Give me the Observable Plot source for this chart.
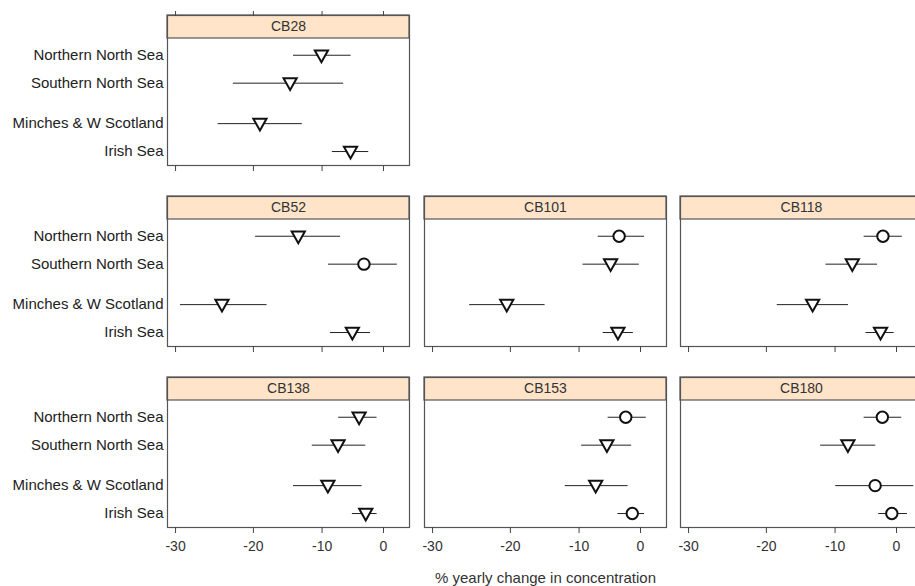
<!DOCTYPE html>
<html><head><meta charset="utf-8">
<script src="https://cdn.jsdelivr.net/npm/d3@7"></script>
<script src="https://cdn.jsdelivr.net/npm/@observablehq/plot@0.6"></script>
<style>
html,body{margin:0;padding:0;background:#fff;}
#chart{position:relative;width:915px;height:586px;overflow:hidden;background:#fff;}
</style></head><body><div id="chart"></div>
<script>
// ---- data ----
const congeners = ["CB28", "CB52", "CB101", "CB118", "CB138", "CB153", "CB180"];
const regions = ["Northern North Sea", "Southern North Sea", "Minches & W Scotland", "Irish Sea"];
// % yearly change (estimate, lower, upper) – rows follow congeners, columns follow regions
const estimate = [
  [-10.1, -14.8, -19.1, -5.5],
  [-13.6, -3.3, -24.2, -5.2],
  [-3.6, -5.0, -20.5, -3.8],
  [-2.3, -7.3, -13.4, -2.7],
  [-4.1, -7.5, -9.1, -3.0],
  [-2.5, -5.6, -7.4, -1.4],
  [-2.4, -8.0, -3.6, -0.8]
];
const lower = [
  [-14.3, -22.7, -24.7, -8.4],
  [-19.7, -9.0, -29.4, -8.7],
  [-7.0, -9.4, -25.4, -6.2],
  [-5.4, -11.4, -18.5, -5.1],
  [-7.4, -11.5, -14.3, -5.2],
  [-5.4, -9.6, -12.1, -3.8],
  [-5.4, -12.2, -9.9, -3.0]
];
const upper = [
  [-5.4, -6.6, -13.0, -2.5],
  [-7.1, 2.4, -18.1, -2.2],
  [0.7, -0.2, -15.1, -1.2],
  [1.0, -3.2, -7.9, -0.4],
  [-1.1, -3.0, -3.6, -1.1],
  [1.0, -1.5, -2.1, 0.7],
  [0.9, -3.5, 3.0, 1.9]
];
const xTickValues = [-30, -20, -10, 0];
const xTickLabels = ["-30", "-20", "-10", "0"];
const xLabel = "% yearly change in concentration";
const panelGrid = [["CB28", null, null], ["CB52", "CB101", "CB118"], ["CB138", "CB153", "CB180"]];

// ---- layout ----
const colLeft = [167, 424, 680], rowTop = [15, 196, 377];
const FW = 242, STRIP = 23, PANEL = 127;
const yPanel = [-0.6, 3.95];
const pxPerUnit = PANEL / (yPanel[1] - yPanel[0]);
const yDomain = [yPanel[0] - STRIP / pxPerUnit, yPanel[1]];
const regionPos = regions.map((_, i) => i + (i >= 2 ? 0.45 : 0));
const toRatio = v => 1 + v / 100;
const xDomain = [toRatio(-30.96), toRatio(4.56)];
const xTicks = xTickValues.map(toRatio);
const fmtX = d => xTickLabels[xTicks.findIndex(t => Math.abs(t - d) < 1e-9)];
const FONT = "'Liberation Sans', Arial, Helvetica, sans-serif";

const downTriangle = {
  draw(ctx, size) {
    const s = Math.sqrt(size / Math.PI);
    ctx.moveTo(-1.1 * s, -0.8 * s);
    ctx.lineTo(1.1 * s, -0.8 * s);
    ctx.lineTo(0, 1.15 * s);
    ctx.closePath();
  }
};

const chart = document.getElementById("chart");

function panel(name, row, col) {
  const k = congeners.indexOf(name);
  const rows = regions.map((r, i) => ({
    region: r, pos: regionPos[i], est: estimate[k][i], lo: lower[k][i], hi: upper[k][i]
  }));
  const sig = rows.filter(d => d.hi < 0);
  const ns = rows.filter(d => d.hi >= 0);
  const ML = col === 0 ? 167 : 2, MR = 2, MT = row === 0 ? 10 : 2, MB = row === 2 ? 59 : 10;
  const marks = [
    Plot.rect([0], {x1: () => xDomain[0], x2: () => xDomain[1], y1: () => yDomain[0], y2: () => yPanel[0],
      fill: "#ffe4c9", stroke: "#555", strokeWidth: 1.2}),
    Plot.text([name], {x: () => Math.sqrt(xDomain[0] * xDomain[1]), y: () => (yDomain[0] + yPanel[0]) / 2,
      fontSize: 14, fill: "#333"}),
    Plot.ruleY(rows, {y: "pos", x1: d => toRatio(d.lo), x2: d => toRatio(d.hi), stroke: "#222", strokeWidth: 1}),
    Plot.dot(ns, {x: d => toRatio(d.est), y: "pos", r: 5.7, stroke: "#111", strokeWidth: 2, fill: "white"}),
    Plot.dot(sig, {x: d => toRatio(d.est), y: "pos", r: 6, symbol: downTriangle, stroke: "#111", strokeWidth: 2, fill: "white"}),
    Plot.frame({stroke: "#555", strokeWidth: 1.2}),
    Plot.axisX({anchor: "bottom", ticks: xTicks, tickSize: 6, tickPadding: 8, stroke: "#444",
      tickFormat: row === 2 ? fmtX : () => "", fontSize: 14, fill: "#333"})
  ];
  if (row === 0) {
    marks.push(Plot.axisX({anchor: "top", ticks: xTicks, tickSize: 5, stroke: "#444", tickFormat: () => ""}));
  }
  if (col === 0) {
    marks.push(Plot.axisY({anchor: "left", ticks: regionPos, tickSize: 0, tickPadding: 4,
      tickFormat: d => regions[regionPos.indexOf(d)], fontSize: 15, fill: "#222"}));
  }
  if (row === 2 && col === 1) {
    marks.push(Plot.text([xLabel], {frameAnchor: "bottom", dy: 55, fontSize: 15, fill: "#333"}));
  }
  const svg = Plot.plot({
    width: ML + FW + MR,
    height: MT + STRIP + PANEL + MB,
    marginLeft: ML, marginRight: MR, marginTop: MT, marginBottom: MB,
    style: {fontFamily: FONT, fontSize: "14px", color: "#222", background: "transparent", overflow: "visible"},
    x: {type: "log", domain: xDomain, label: null},
    y: {type: "linear", domain: yDomain, reverse: true, label: null, axis: col === 0 ? undefined : null},
    marks
  });
  svg.style.position = "absolute";
  svg.style.left = (colLeft[col] - ML) + "px";
  svg.style.top = (rowTop[row] - MT) + "px";
  svg.style.maxWidth = "none";
  chart.appendChild(svg);
}

panelGrid.forEach((r, ri) => r.forEach((name, ci) => { if (name) panel(name, ri, ci); }));
</script>
</body></html>
